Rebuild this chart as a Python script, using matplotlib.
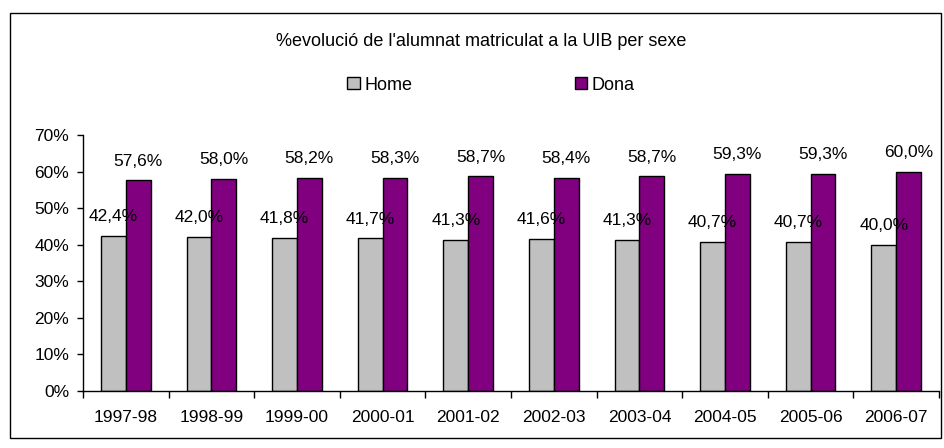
import numpy as np
import matplotlib.pyplot as plt
from matplotlib.patches import Rectangle
from matplotlib.ticker import FuncFormatter

plt.rcParams['font.family'] = ['Liberation Sans', 'DejaVu Sans']

years = ['1997-98', '1998-99', '1999-00', '2000-01', '2001-02',
         '2002-03', '2003-04', '2004-05', '2005-06', '2006-07']
home = [42.4, 42.0, 41.8, 41.7, 41.3, 41.6, 41.3, 40.7, 40.7, 40.0]
dona = [57.6, 58.0, 58.2, 58.3, 58.7, 58.4, 58.7, 59.3, 59.3, 60.0]

fig = plt.figure(figsize=(9.44, 4.48), dpi=100)
# marc exterior del gràfic
fig.patches.append(Rectangle((10 / 944, 10 / 448), 931 / 944, 425 / 448,
                             transform=fig.transFigure, fill=False,
                             edgecolor='black', linewidth=1))

ax = fig.add_axes([83 / 944, 57.3 / 448, 856 / 944, 255.5 / 448])
x = np.arange(len(years))
w = 0.29
b1 = ax.bar(x - w / 2, home, w, color='#C0C0C0', edgecolor='black', linewidth=1, label='Home')
b2 = ax.bar(x + w / 2, dona, w, color='#800080', edgecolor='black', linewidth=1, label='Dona')

for xi, v in zip(x, home):
    ax.annotate(f"{v:.1f}%".replace('.', ','), (xi - w / 2, v), xytext=(0, 14),
                textcoords='offset points', ha='center', va='center', fontsize=12.5)
for xi, v in zip(x, dona):
    ax.annotate(f"{v:.1f}%".replace('.', ','), (xi + w / 2, v), xytext=(0, 14),
                textcoords='offset points', ha='center', va='center', fontsize=12.5)

ax.set_xlim(-0.5, len(years) - 0.5)
ax.set_ylim(0, 70)
ax.set_yticks(np.arange(0, 71, 10))
ax.yaxis.set_major_formatter(FuncFormatter(lambda v, p: f"{v:.0f}%"))
ax.set_xticks(x)
ax.set_xticklabels(years)
ax.set_xticks(np.arange(-0.5, len(years), 1), minor=True)
ax.tick_params(axis='x', which='major', length=0, pad=14, labelsize=12.5)
ax.tick_params(axis='x', which='minor', length=5, direction='out', width=1)
ax.tick_params(axis='y', length=4, width=1, labelsize=12.5, pad=6)
for s in ['top', 'right']:
    ax.spines[s].set_visible(False)
for s in ['left', 'bottom']:
    ax.spines[s].set_linewidth(1)

fig.text(0.51, 1 - 42 / 448, "%evolució de l'alumnat matriculat a la UIB per sexe",
         ha='center', va='center', fontsize=13)
fig.legend(handles=[b1, b2], loc='center', bbox_to_anchor=(0.52, 1 - 85 / 448),
           ncol=2, frameon=False, fontsize=13, columnspacing=9,
           handlelength=0.7, handleheight=0.7, handletextpad=0.25)

fig.savefig('out.png', dpi=100)
